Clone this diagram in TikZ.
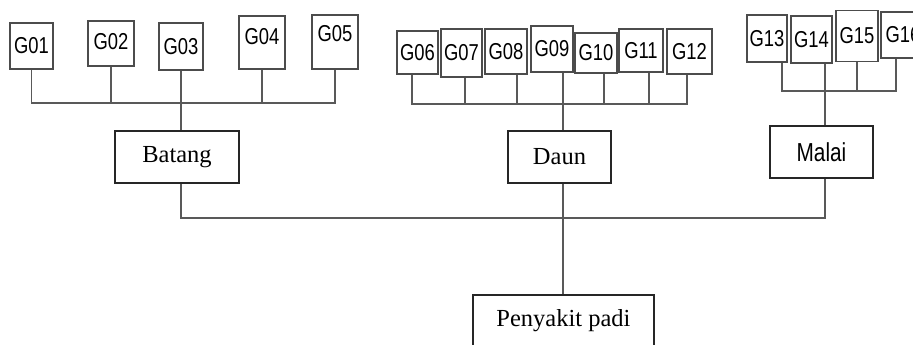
\documentclass[tikz,border=0pt]{standalone}
\usepackage{fontspec}
\setmainfont{Liberation Serif}
\newfontfamily\gfont[FakeStretch=0.8]{Liberation Sans}
\usetikzlibrary{positioning}

\tikzset{
  gejala/.style={draw=black!70, line width=1.2pt, fill=white, inner sep=0pt,
    minimum width=42pt, minimum height=45pt, font=\gfont\fontsize{23}{26}\selectfont},
  bagian/.style={draw=black!85, line width=2.2pt, fill=white, inner sep=0pt,
    minimum height=52pt, font=\fontsize{24.5}{28}\selectfont},
  link/.style={draw=black!65, line width=1.3pt},
}

\begin{document}
\begin{tikzpicture}[x=1pt, y=-1pt]
\useasboundingbox (0,0) rectangle (913,345);
\clip (0,0) rectangle (913,345);
% gejala batang
\node[gejala, minimum width=43pt, minimum height=46pt] (G01) at (31.5, 46) {G01};
\node[gejala, minimum width=46pt, text depth=5pt] (G02) at (111, 43.5) {G02};
\node[gejala, minimum width=44pt, minimum height=47pt] (G03) at (181, 46.5) {G03};
\node[gejala, minimum width=46pt, minimum height=53pt, text depth=13pt] (G04) at (262, 42.5) {G04};
\node[gejala, minimum width=46pt, minimum height=54pt, text depth=17pt] (G05) at (335, 42) {G05};
% gejala daun
\node[gejala, minimum width=41pt, minimum height=43pt] (G06) at (417.5, 52.5) {G06};
\node[gejala, minimum width=41pt, minimum height=48pt] (G07) at (461.5, 53) {G07};
\node[gejala] (G08) at (506, 51.5) {G08};
\node[gejala, minimum height=46pt] (G09) at (552, 49) {G09};
\node[gejala, minimum height=40pt] (G10) at (596, 53) {G10};
\node[gejala, minimum width=44pt, minimum height=43pt] (G11) at (641, 50.5) {G11};
\node[gejala, minimum width=45pt] (G12) at (689.5, 51.5) {G12};
% gejala malai
\node[gejala, minimum width=40pt, minimum height=47pt] (G13) at (767, 38.5) {G13};
\node[gejala, minimum width=41pt, minimum height=47pt] (G14) at (811.5, 39.5) {G14};
\node[gejala, minimum height=51pt] (G15) at (857, 36) {G15};
\node[gejala, minimum width=44pt, minimum height=46pt] (G16) at (903, 35) {G16};
% bagian tanaman
\node[bagian, minimum width=124pt] (Batang) at (177, 157) {Batang};
\node[bagian, minimum width=103pt] (Daun) at (559.5, 157) {Daun};
\node[bagian, minimum width=103pt, font=\gfont\fontsize{26}{30}\selectfont] (Malai) at (821.5, 152) {Malai};
\node[bagian, minimum width=181pt] (Penyakit) at (563.5, 321) {Penyakit padi};
% titik sambung
\coordinate (busB) at (0, 103);
\coordinate (busD) at (0, 104);
\coordinate (busM) at (0, 91);
\coordinate (busU) at (0, 218);
\foreach \g/\d in {06/-5.5, 07/3.5, 08/11, 09/11, 10/8, 11/8, 12/-2.5, 13/15, 14/13.5, 15/0, 16/-7}
  \coordinate (l\g) at ([xshift=\d pt]G\g.south);
% batang
\draw[link] (G01.south) |- (G05.south |- busB) -- (G05.south);
\foreach \g in {G02, G04}
  \draw[link] (\g.south) -- (\g.south |- busB);
\draw[link] (G03.south) -- (G03.south |- Batang.north);
% daun
\draw[link] (l06) |- (l12 |- busD) -- (l12);
\foreach \g in {07, 08, 10, 11}
  \draw[link] (l\g) -- (l\g |- busD);
\draw[link] (l09) -- (l09 |- Daun.north);
% malai
\draw[link] (l13) |- (l16 |- busM) -- (l16);
\draw[link] (l15) -- (l15 |- busM);
\draw[link] (l14) -- (l14 |- Malai.north);
% penyakit padi
\draw[link] (G03.south |- Batang.south) |- (l14 |- busU) -- (l14 |- Malai.south);
\draw[link] (l09 |- Daun.south) -- (l09 |- Penyakit.north);
\end{tikzpicture}
\end{document}
